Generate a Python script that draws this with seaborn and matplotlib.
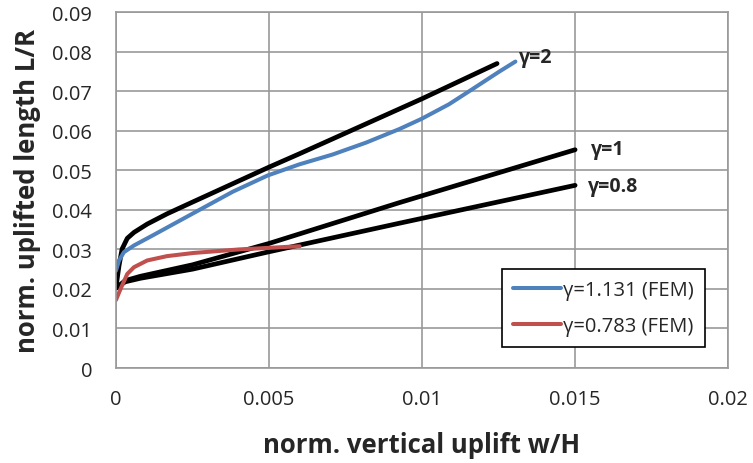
import matplotlib
matplotlib.use("Agg")
import matplotlib.pyplot as plt
import seaborn as sns

# gamma = 2 (analytical)
g2_x = [0.0, 0.0001, 0.0002, 0.00037, 0.00059, 0.00102, 0.00167, 0.00254, 0.005, 0.006, 0.01, 0.01245]
g2_y = [0.0204, 0.0259, 0.0301, 0.0328, 0.0343, 0.0364, 0.0390, 0.0421, 0.0508, 0.0542, 0.0681, 0.0770]
# gamma = 1 (analytical)
g1_x = [0.0, 0.0003, 0.0008, 0.0025, 0.005, 0.00925, 0.015]
g1_y = [0.0202, 0.0221, 0.0232, 0.0261, 0.0315, 0.0418, 0.0552]
# gamma = 0.8 (analytical)
g08_x = [0.0, 0.0003, 0.0008, 0.0025, 0.005, 0.00925, 0.015]
g08_y = [0.0202, 0.0218, 0.0227, 0.0250, 0.0294, 0.0366, 0.0462]
# FEM gamma = 1.131
fem1_x = [0.0, 0.0001, 0.00026, 0.00059, 0.00124, 0.00254, 0.00382, 0.00496, 0.00599, 0.00708,
          0.00817, 0.00925, 0.00998, 0.01088, 0.01164, 0.01251, 0.01305]
fem1_y = [0.0246, 0.0272, 0.0293, 0.0310, 0.0337, 0.0392, 0.0446, 0.0487, 0.0515, 0.0540,
          0.0570, 0.0604, 0.0630, 0.0667, 0.0705, 0.0749, 0.0775]
# FEM gamma = 0.783
fem2_x = [0.0, 0.00015, 0.00037, 0.00059, 0.00102, 0.00167, 0.00254, 0.00404, 0.006]
fem2_y = [0.0172, 0.0200, 0.0238, 0.0255, 0.0272, 0.0283, 0.0291, 0.0300, 0.0308]

x_ticks = [0, 0.005, 0.01, 0.015, 0.02]
x_tick_labels = ["0", "0.005", "0.01", "0.015", "0.02"]
y_ticks = [0, 0.01, 0.02, 0.03, 0.04, 0.05, 0.06, 0.07, 0.08, 0.09]
y_tick_labels = ["0", "0.01", "0.02", "0.03", "0.04", "0.05", "0.06", "0.07", "0.08", "0.09"]

sns.set_style("white")
plt.rcParams['font.family'] = ['Open Sans', 'DejaVu Sans']

fig = plt.figure(figsize=(7.53, 4.64), dpi=100)
ax = fig.add_axes([0.154, 0.2047, 0.813, 0.767])

blue = "#4F81BD"
red = "#C0504D"

sns.lineplot(x=g2_x, y=g2_y, ax=ax, color="black", linewidth=3.4, sort=False, legend=False)
sns.lineplot(x=g1_x, y=g1_y, ax=ax, color="black", linewidth=3.4, sort=False, legend=False)
sns.lineplot(x=g08_x, y=g08_y, ax=ax, color="black", linewidth=3.4, sort=False, legend=False)
sns.lineplot(x=fem1_x, y=fem1_y, ax=ax, color=blue, linewidth=2.9, sort=False, label="γ=1.131 (FEM)")
sns.lineplot(x=fem2_x, y=fem2_y, ax=ax, color=red, linewidth=2.9, sort=False, label="γ=0.783 (FEM)")
for ln in ax.lines:
    ln.set_solid_capstyle("round")
    ln.set_solid_joinstyle("round")

ax.set_xlim(0, 0.02)
ax.set_ylim(0, 0.09)
ax.set_xticks(x_ticks)
ax.set_xticklabels(x_tick_labels)
ax.set_yticks(y_ticks)
ax.set_yticklabels(y_tick_labels)
ax.tick_params(axis='both', labelsize=14.5, length=0)
ax.tick_params(axis='y', pad=17)
ax.tick_params(axis='x', pad=15)
ax.grid(True, color="#999999", linewidth=1.2)
for s in ax.spines.values():
    s.set_color("#999999")
    s.set_linewidth(1.2)

ax.set_xlabel("norm. vertical uplift w/H", fontsize=18.5, fontweight="bold")
ax.set_ylabel("norm. uplifted length L/R", fontsize=18.5, fontweight="bold")
ax.xaxis.set_label_coords(0.5, -0.178)
ax.yaxis.set_label_coords(-0.122, 0.5)

ax.text(0.01316, 0.0787, "γ=2", fontsize=14, fontweight="bold", va="center", ha="left")
ax.text(0.01553, 0.0554, "γ=1", fontsize=14, fontweight="bold", va="center", ha="left")
ax.text(0.01542, 0.0461, "γ=0.8", fontsize=14, fontweight="bold", va="center", ha="left")

leg = ax.legend(loc="lower right", bbox_to_anchor=(0.962, 0.06), fontsize=14.5, frameon=True,
                fancybox=False, handlelength=2.4, handletextpad=0.1, labelspacing=0.75,
                borderpad=0.55, borderaxespad=0)
leg.get_frame().set_edgecolor("black")
leg.get_frame().set_linewidth(1.2)
leg.get_frame().set_alpha(1)

fig.savefig("out.png", dpi=100)
